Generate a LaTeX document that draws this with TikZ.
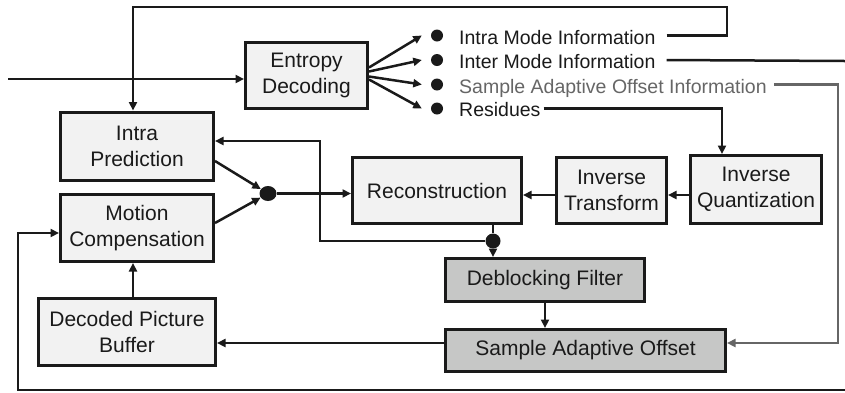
\documentclass[tikz,border=0pt]{standalone}
\usepackage{fontspec}
\setmainfont{Liberation Sans}
\usetikzlibrary{arrows.meta,shapes.geometric}
\definecolor{ink}{HTML}{1A1A1A}
\definecolor{boxfill}{HTML}{F2F2F2}
\definecolor{darkfill}{HTML}{C6C7C6}
\definecolor{saogray}{HTML}{666666}
\tikzset{
  blk/.style={draw=ink, line width=3pt, fill=boxfill, rectangle, inner sep=0pt,
    align=center, font=\fontsize{21}{26}\selectfont, text=ink},
  dblk/.style={blk, fill=darkfill},
  conn/.style={draw=ink, line width=2.5pt},
  arr/.style={conn, -{Triangle[length=8.5pt,width=8pt]}},
  garr/.style={draw=saogray, line width=2.2pt, -{Triangle[length=8.5pt,width=8pt]}},
  bullet/.style={circle, fill=ink, inner sep=0pt, minimum size=12pt},
  lbl/.style={inner sep=0pt, font=\fontsize{19.5}{23}\selectfont, text=ink, anchor=base west},
  junction/.style={ellipse, fill=ink, inner sep=0pt, minimum width=17pt, minimum height=15pt}
}
\begin{document}
\begin{tikzpicture}[x=1pt,y=-1pt]
\useasboundingbox (0,0) rectangle (845,392);

% processing blocks
\node[blk, minimum width=122pt, minimum height=66pt] (ED)  at (306.5,75.5) {Entropy\\Decoding};
\node[blk, minimum width=153pt, minimum height=68pt] (IP)  at (137,146)   {Intra\\Prediction};
\node[blk, minimum width=153pt, minimum height=67pt] (MC)  at (137,228)   {Motion\\Compensation};
\node[blk, minimum width=177pt, minimum height=67pt] (DPB) at (127,332)   {Decoded Picture\\Buffer};
\node[blk, minimum width=169pt, minimum height=66pt] (REC) at (437,190.5) {Reconstruction};
\node[blk, minimum width=110pt, minimum height=66pt] (IT)  at (611.5,190.5) {Inverse\\Transform};
\node[blk, minimum width=131pt, minimum height=68pt] (IQ)  at (756,189.5) {Inverse\\Quantization};
\node[dblk, minimum width=199pt, minimum height=43pt] (DF)  at (545,280)  {Deblocking Filter};
\node[dblk, minimum width=280pt, minimum height=42pt] (SAO) at (585.5,350.5) {Sample Adaptive Offset};

% syntax elements leaving the entropy decoder
\node[bullet] (bIntra) at (437,35.5) {};
\node[bullet] (bInter) at (437,60) {};
\node[bullet] (bSao)   at (437,84.5) {};
\node[bullet] (bRes)   at (437,108.5) {};
\node[lbl] (tIntra) at (459,44.5) {Intra Mode Information};
\node[lbl] (tInter) at (459,68.5) {Inter Mode Information};
\node[lbl, text=saogray] (tSao) at (459,93) {Sample Adaptive Offset Information};
\node[lbl] (tRes)   at (459,116) {Residues};

% junctions
\node[junction] (J1) at (268,193.5) {};
\node[junction, minimum width=15pt, minimum height=15pt] (J2) at (493,241) {};

% routing points
\coordinate (in)    at (8,79);
\coordinate (topR)  at (727,7);
\coordinate (topL)  at (133,7);
\coordinate (interEnd) at (845,61);
\coordinate (saoR)  at (838,343);
\coordinate (resR)  at (722,108.5);
\coordinate (fbL)   at (320,141);
\coordinate (yInv)  at (0,195);
\coordinate (ySao)  at (0,343);
\coordinate (xBuf)  at (133,0);
\coordinate (botR)  at (845,390);
\coordinate (botL)  at (18,233);

% bitstream input
\draw[arr] (in) -- (ED.west |- in);

% fan-out of the entropy decoder
\draw[arr] ([yshift=8pt]ED.east)  -- ([xshift=-9pt]bIntra.west);
\draw[arr] ([yshift=4pt]ED.east)  -- ([xshift=-9pt]bInter.west);
\draw[arr] ([yshift=-1pt]ED.east) -- ([xshift=-9pt]bSao.west);
\draw[arr] ([yshift=-4pt]ED.east) -- ([xshift=-9pt]bRes.west);

% intra mode information back to intra prediction
\draw[arr] ([xshift=11pt]tIntra.east |- bIntra) -| (topR) -- (topL) -- (topL |- IP.north);
% inter mode information
\draw[conn] ([xshift=11pt]tInter.east |- bInter) -- (interEnd);
% SAO parameters
\draw[garr] ([xshift=7pt]tSao.east |- bSao) -| (saoR) -- (SAO.east |- saoR);
% residues to inverse quantization
\draw[arr] ([xshift=3pt]tRes.east |- bRes) -- (resR) -- (resR |- IQ.north);

% inverse path
\draw[arr] (IQ.west |- yInv) -- (IT.east |- yInv);
\draw[arr] (IT.west |- yInv) -- (REC.east |- yInv);

% prediction into the adder
\draw[arr] ([yshift=-15pt]IP.east) -- (J1);
\draw[arr] ([yshift=5pt]MC.east) -- (J1);
\draw[arr] (J1) -- (REC.west |- J1);

% reconstruction output
\draw[conn] (REC.south -| J2) -- (J2);
\draw[arr] (J2) -- (J2 |- DF.north);
\draw[arr] (J2) -| (fbL) -- (IP.east |- fbL);

% in-loop filters and picture buffer
\draw[arr] (DF.south) -- (DF.south |- SAO.north);
\draw[arr] (SAO.west |- ySao) -- (DPB.east |- ySao);
\draw[arr] (DPB.north -| xBuf) -- (MC.south -| xBuf);

% reference pictures back to motion compensation
\draw[arr] (botR) -| (botL) -- (MC.west |- botL);
\end{tikzpicture}
\end{document}
